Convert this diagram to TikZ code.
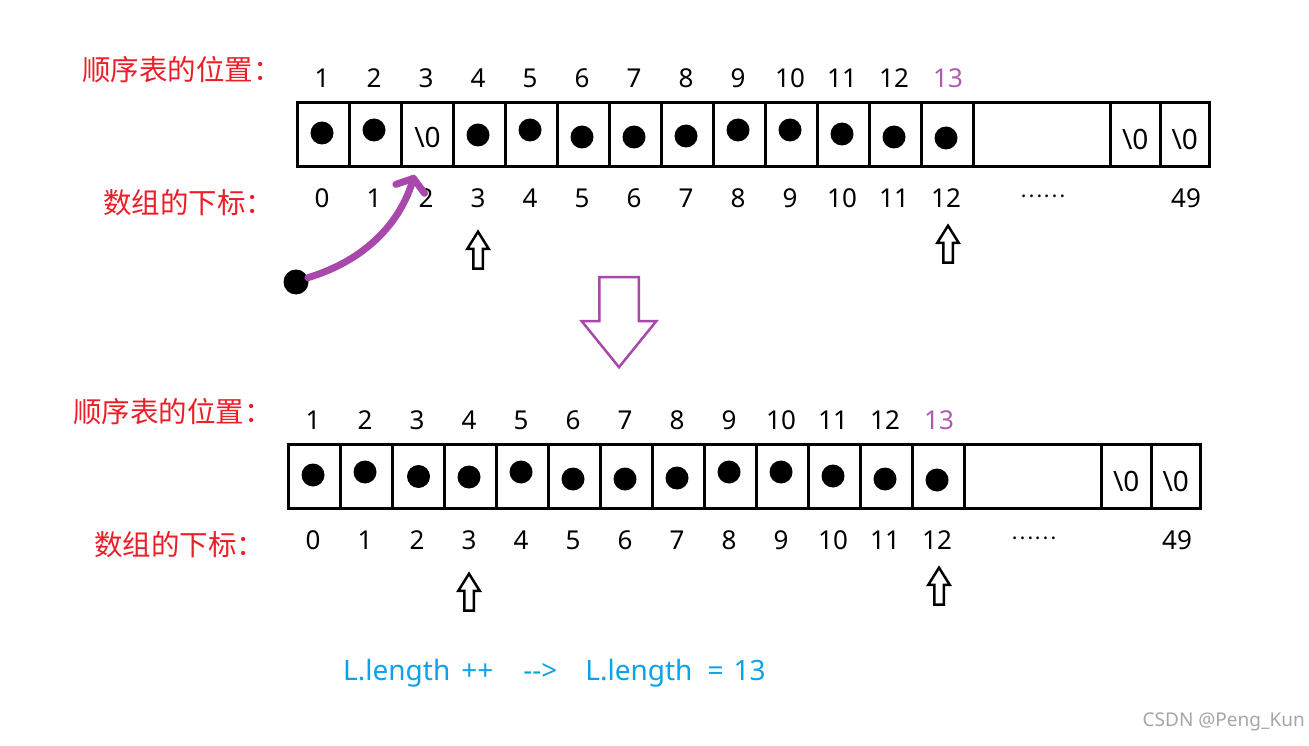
\documentclass[tikz,border=0pt]{standalone}
\usepackage{fontspec}
\setmainfont{Noto Sans}
\newfontfamily\cjk{Noto Sans CJK SC}
\usetikzlibrary{arrows.meta,positioning,shapes.arrows}
\definecolor{labelred}{RGB}{236,30,40}
\definecolor{posviolet}{RGB}{168,72,170}
\definecolor{lenblue}{RGB}{10,162,232}

\begin{document}
\begin{tikzpicture}[x=1pt,y=-1pt,
cell/.style={draw,line width=3pt,inner sep=0pt,minimum width=52pt,minimum height=64pt,anchor=north west},
dot/.style={circle,fill,inner sep=0pt,minimum size=23pt},
num/.style={font=\fontsize{26}{30}\selectfont,inner sep=0pt},
nul/.style={font=\fontsize{28}{32}\selectfont,inner sep=0pt},
caption/.style={font=\cjk\fontsize{28.5}{32}\selectfont,text=labelred,inner sep=0pt,anchor=west},
hollow/.style={single arrow,draw,line width=2.5pt,inner sep=3.5pt,minimum height=37pt,single arrow head extend=6pt,single arrow tip angle=64,shape border rotate=90},
bigarrow/.style={single arrow,draw=posviolet,line width=2.5pt,inner sep=18.5pt,minimum height=90pt,single arrow head extend=17.5pt,single arrow tip angle=78,shape border rotate=270}]
\useasboundingbox (0,0) rectangle (1309,746);

% the two arrays, before and after
\foreach \row/\ox/\oy in {t/296/101,b/287/443}{
\begin{scope}[shift={(\ox,\oy)}]
\foreach \i in {1,...,13}
  \node[cell] (\row\i) at ({(\i-1)*52},0) {};
\node[cell,minimum width=137pt] (\row gap) at (676,0) {};
\node[cell,minimum width=49.5pt] (\row z1) at (813,0) {};
\node[cell,minimum width=49.5pt] (\row z2) at (862.5,0) {};
\foreach \i/\dy in {1/0,2/-3,4/2,5/-3,6/4,7/4,8/3,9/-3,10/-3,11/1,12/4,13/5}
  \node[dot] (\row d\i) at ({(\i-1)*52+26},{32+\dy}) {};
\node[nul] (\row n1) at ([yshift=-5pt]\row z1.center) {\textbackslash0};
\node[nul] (\row n2) at ([yshift=-5pt]\row z2.center) {\textbackslash0};
% position labels and array indices
\foreach \i in {1,...,12}
  \node[num] (\row p\i) at ({(\i-1)*52+26},-23) {\i};
\node[num,text=posviolet!90!white] (\row p13) at (652,-23) {13};
\foreach \i [evaluate=\i as \idx using int(\i-1)] in {1,...,13}
  \node[num] (\row x\i) at ({(\i-1)*52+26},97) {\idx};
\node[num,font=\cjk\fontsize{21}{24}\selectfont] (\row dots) at (747,95) {……};
\node[num] (\row x50) at (890,97) {49};
\node[caption] (\row pos) at (-214,-31) {顺序表的位置：};
\node[caption] (\row idx) at (-193,102) {数组的下标：};
\node[hollow] (\row up1) at (182,153) {};
\node[hollow] (\row up2) at (652,147) {};
\end{scope}
}

% element inserted at index 2
\node[nul] (tnul) at ([yshift=-3pt]t3.center) {\textbackslash0};
\node[dot] (bd3) at (b3.center) {};
\node[dot,minimum size=25pt] (newel) at (296,282) {};
\coordinate (tip) at ([xshift=-13pt,yshift=-7pt]t3.south);
\draw[posviolet,line width=7pt,line cap=round,-{Straight Barb[length=11pt,width=30pt,round]}]
  (newel.20) .. controls (360,262) and (398,228) .. (tip);

\node[bigarrow] (down) at (619,310) {};

\node[font=\fontsize{28}{32}\selectfont,text=lenblue,inner sep=0pt,anchor=west] (len) at (343,673)
  {L.length\hspace{11pt}++\hspace{30pt}{-}{-}>\hspace{28pt}L.length\hspace{15pt}=\hspace{10pt}13};
\node[font=\fontsize{19}{22}\selectfont,text=black!35,inner sep=0pt,anchor=east] (mark) at (1305,722) {CSDN @Peng\_Kun};
\end{tikzpicture}
\end{document}
